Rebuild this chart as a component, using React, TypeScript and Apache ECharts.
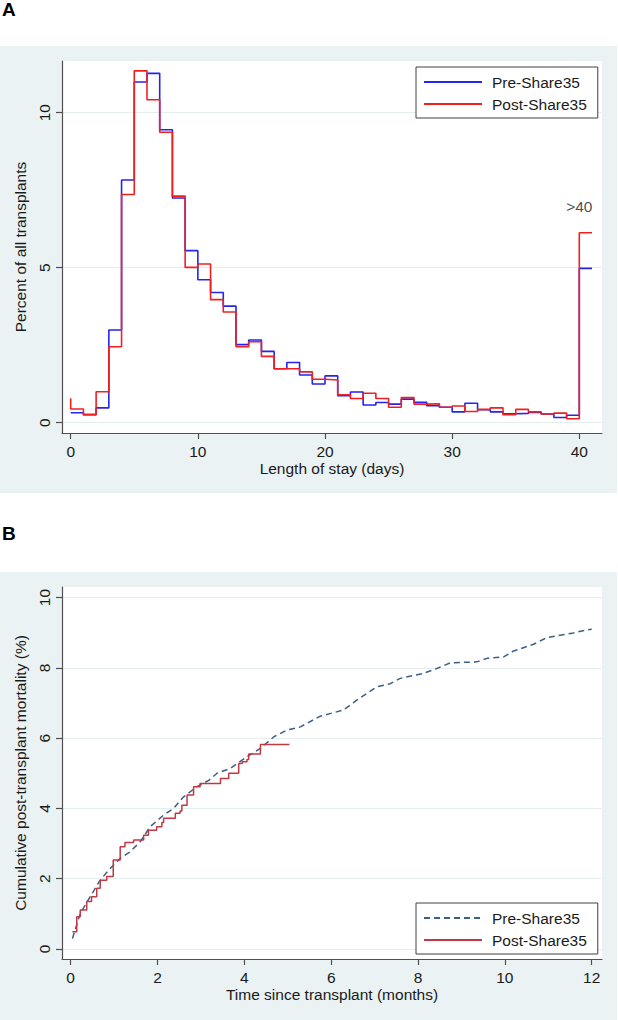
import React, { useEffect, useRef } from "react";
import * as echarts from "echarts";

// ---------- Panel A: length of stay histogram ----------
const dayBins = [0, 1, 2, 3, 4, 5, 6, 7, 8, 9, 10, 11, 12, 13, 14, 15, 16, 17, 18, 19, 20, 21, 22, 23, 24, 25, 26, 27, 28, 29, 30, 31, 32, 33, 34, 35, 36, 37, 38, 39, 40];
const preLosPct = [0.32, 0.26, 0.48, 2.99, 7.83, 10.99, 11.27, 9.45, 7.25, 5.55, 4.61, 4.2, 3.76, 2.52, 2.67, 2.3, 1.74, 1.94, 1.54, 1.25, 1.51, 0.87, 0.99, 0.57, 0.65, 0.6, 0.76, 0.66, 0.55, 0.5, 0.35, 0.63, 0.42, 0.35, 0.29, 0.3, 0.33, 0.28, 0.17, 0.24, 4.98];
const postLosPct = [0.44, 0.26, 1.0, 2.45, 7.36, 11.35, 10.42, 9.37, 7.31, 5.01, 5.12, 3.97, 3.57, 2.45, 2.61, 2.14, 1.74, 1.74, 1.64, 1.4, 1.38, 0.9, 0.78, 0.95, 0.78, 0.5, 0.81, 0.6, 0.61, 0.5, 0.54, 0.36, 0.43, 0.48, 0.26, 0.43, 0.35, 0.28, 0.31, 0.13, 6.13];
const postLosStartPct = 0.79;
const binWidth = 1;
const xTicksA = [0, 10, 20, 30, 40];
const yTicksA = [0, 5, 10];
const overflowLabel = ">40";
const overflowLabelPos = [40, 6.97];

// ---------- Panel B: cumulative post-transplant mortality ----------
const preTime = [0.04, 0.22, 0.45, 0.68, 0.91, 1.14, 1.37, 1.6, 1.83, 2.14, 2.37, 2.6, 2.91, 3.18, 3.37, 3.68, 4.06, 4.37, 4.68, 4.98, 5.29, 5.74, 6.28, 6.59, 7.05, 7.36, 7.59, 8.12, 8.43, 8.74, 9.35, 9.59, 9.97, 10.2, 10.66, 10.97, 11.27, 11.58, 11.77, 12.0];
const preMort = [0.3, 1.01, 1.49, 1.96, 2.29, 2.58, 2.77, 3.05, 3.48, 3.81, 4.0, 4.33, 4.62, 4.8, 5.0, 5.14, 5.47, 5.71, 6.04, 6.23, 6.32, 6.62, 6.8, 7.08, 7.46, 7.55, 7.7, 7.84, 7.98, 8.14, 8.17, 8.27, 8.31, 8.48, 8.67, 8.86, 8.93, 8.99, 9.05, 9.1];
const postTime = [0.04, 0.14, 0.22, 0.37, 0.48, 0.6, 0.68, 0.83, 0.98, 1.14, 1.25, 1.45, 1.68, 1.79, 1.98, 2.1, 2.14, 2.41, 2.52, 2.56, 2.68, 2.83, 2.98, 3.45, 3.64, 3.87, 3.95, 4.06, 4.1, 4.37, 5.04];
const postMort = [0.49, 0.92, 1.11, 1.35, 1.49, 1.73, 1.96, 2.06, 2.53, 2.91, 3.03, 3.1, 3.24, 3.38, 3.48, 3.6, 3.72, 3.86, 3.93, 4.09, 4.38, 4.62, 4.71, 4.85, 5.0, 5.28, 5.33, 5.39, 5.55, 5.82, 5.82];
const xTicksB = [0, 2, 4, 6, 8, 10, 12];
const yTicksB = [0, 2, 4, 6, 8, 10];

const seriesNames = ["Pre-Share35", "Post-Share35"];

const FONT = "'Liberation Sans', Arial, sans-serif";
const TXT = "#1a1a1a";
const AX = "#505050";
const BG = "#eaf2f3";
const GRIDLINE = "#e6eef0";

function histSteps(vals: number[], start?: number) {
  const pts: number[][] = [];
  if (start !== undefined) pts.push([dayBins[0], start]);
  dayBins.forEach((b, i) => pts.push([b, vals[i]]));
  pts.push([dayBins[dayBins.length - 1] + binWidth, vals[vals.length - 1]]);
  return pts;
}

function xAxisCfg(grid: number, min: number, max: number, ticks: number[], name: string) {
  return {
    type: "value",
    gridIndex: grid,
    min,
    max,
    name,
    nameLocation: "middle",
    nameGap: 27,
    nameTextStyle: { fontFamily: FONT, fontSize: 15.5, color: TXT },
    axisLine: { show: true, onZero: false, lineStyle: { color: AX, width: 1.2 } },
    axisTick: { show: true, length: 6, customValues: ticks, lineStyle: { color: AX, width: 1.2 } },
    axisLabel: { customValues: ticks, fontFamily: FONT, fontSize: 15.5, color: TXT, margin: 10 },
    splitLine: { show: false },
  };
}

function yAxisCfg(grid: number, min: number, max: number, ticks: number[], name: string) {
  return {
    type: "value",
    gridIndex: grid,
    min,
    max,
    name,
    nameLocation: "middle",
    nameRotate: 90,
    nameGap: 28,
    nameTextStyle: { fontFamily: FONT, fontSize: 15.5, color: TXT },
    axisLine: { show: true, onZero: false, lineStyle: { color: AX, width: 1.2 } },
    axisTick: { show: true, length: 6, customValues: ticks, lineStyle: { color: AX, width: 1.2 } },
    axisLabel: { customValues: ticks, rotate: 90, fontFamily: FONT, fontSize: 15.5, color: TXT, margin: 10 },
    splitLine: { show: true, lineStyle: { color: GRIDLINE, width: 1 } },
  };
}

function legendCfg(top: number, names: string[]) {
  return {
    orient: "vertical",
    left: 416,
    top,
    itemWidth: 58,
    itemHeight: 14,
    itemGap: 6,
    padding: [7, 11, 6, 7],
    borderColor: "#404040",
    borderWidth: 1,
    backgroundColor: "#ffffff",
    selectedMode: false,
    itemStyle: { opacity: 0 },
    data: names,
    formatter: (n: string) => n.split("|").pop(),
    textStyle: { fontFamily: FONT, fontSize: 15.5, color: TXT, padding: [0, 0, 0, 5] },
  };
}

export default function App() {
  const ref = useRef<HTMLDivElement>(null);
  useEffect(() => {
    if (!ref.current) return;
    const chart = echarts.init(ref.current, null, { renderer: "svg" });
    const bNames = seriesNames.map((n) => "B|" + n);
    chart.setOption({
      animation: false,
      backgroundColor: "#ffffff",
      graphic: [
        { type: "rect", left: 0, top: 46, shape: { width: 617, height: 447 }, style: { fill: BG }, z: -10 },
        { type: "rect", left: 0, top: 572, shape: { width: 617, height: 448 }, style: { fill: BG }, z: -10 },
        { type: "text", left: 2, top: 0, style: { text: "A", font: "bold 19px " + FONT, fill: "#000" } },
        { type: "text", left: 2, top: 524, style: { text: "B", font: "bold 19px " + FONT, fill: "#000" } },
      ],
      grid: [
        { left: 62, top: 61, width: 540, height: 372, show: true, backgroundColor: "#ffffff", borderWidth: 0 },
        { left: 62, top: 587, width: 540, height: 372, show: true, backgroundColor: "#ffffff", borderWidth: 0 },
      ],
      xAxis: [
        xAxisCfg(0, -0.684, 41.785, xTicksA, "Length of stay (days)"),
        xAxisCfg(1, -0.2, 12.237, xTicksB, "Time since transplant (months)"),
      ],
      yAxis: [
        yAxisCfg(0, -0.332, 11.668, yTicksA, "Percent of all transplants"),
        yAxisCfg(1, -0.284, 10.3, yTicksB, "Cumulative post-transplant mortality (%)"),
      ],
      legend: [legendCfg(67, seriesNames), legendCfg(903, bNames)],
      series: [
        {
          name: seriesNames[0],
          type: "line",
          xAxisIndex: 0,
          yAxisIndex: 0,
          step: "end",
          symbol: "none",
          color: "#2424f0",
          lineStyle: { color: "#2424f0", width: 1.6 },
          data: histSteps(preLosPct),
        },
        {
          name: seriesNames[1],
          type: "line",
          xAxisIndex: 0,
          yAxisIndex: 0,
          step: "end",
          symbol: "none",
          color: "#f02020",
          lineStyle: { color: "#f02020", width: 1.6 },
          data: histSteps(postLosPct, postLosStartPct),
        },
        {
          type: "scatter",
          xAxisIndex: 0,
          yAxisIndex: 0,
          symbolSize: 0,
          silent: true,
          label: {
            show: true,
            position: "inside",
            formatter: overflowLabel,
            fontFamily: FONT,
            fontSize: 15.5,
            color: TXT,
          },
          data: [overflowLabelPos],
        },
        {
          name: bNames[0],
          type: "line",
          xAxisIndex: 1,
          yAxisIndex: 1,
          symbol: "none",
          color: "#3d5f86",
          lineStyle: { color: "#3d5f86", width: 1.5, type: [6, 4] },
          data: preTime.map((t, i) => [t, preMort[i]]),
        },
        {
          name: bNames[1],
          type: "line",
          xAxisIndex: 1,
          yAxisIndex: 1,
          step: "end",
          symbol: "none",
          color: "#bf3a44",
          lineStyle: { color: "#bf3a44", width: 1.5 },
          data: postTime.map((t, i) => [t, postMort[i]]),
        },
      ],
    });
    return () => chart.dispose();
  }, []);
  return <div ref={ref} style={{ position: "absolute", left: 0, top: 0, width: 618, height: 1020 }} />;
}
